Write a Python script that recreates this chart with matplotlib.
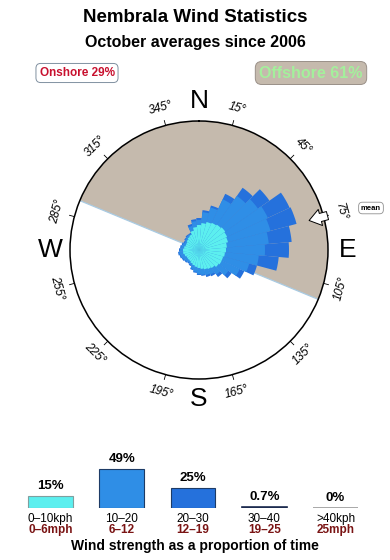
import numpy as np
import matplotlib
matplotlib.use('Agg')
import matplotlib.pyplot as plt

plt.rcParams['font.family'] = ['Liberation Sans', 'DejaVu Sans']

# rose data: direction bins (deg from north) and cumulative petal length per speed band
directions = np.arange(0, 360, 10)
band_0_10 = [25, 27, 29, 30, 31, 32, 31, 30, 28, 27, 26, 25, 25, 24, 22, 21, 20, 19,
             18, 17, 16, 15, 14, 14, 14, 15, 16, 16, 15, 14, 14, 15, 16, 17, 20, 23]
band_10_20 = [30, 38, 44, 56, 66, 72, 76, 74, 70, 66, 60, 52, 45, 36, 30, 27, 26, 25,
              24, 22, 20, 17, 16, 17, 18, 19, 20, 19, 18, 17, 16, 17, 18, 18, 25, 29]
band_20_30 = [32, 40, 46, 62, 76, 86, 100, 101, 93, 90, 80, 60, 50, 40, 33, 29, 28, 26,
              25, 23, 21, 18, 17, 18, 19, 20, 21, 20, 19, 18, 17, 18, 19, 19, 27, 31]
ring_max = 129

offshore_from = 292.5
offshore_to = 112.5
mean_dir = 75
label_dirs = np.arange(15, 360, 30)
cardinals = ['N', 'E', 'S', 'W']

# speed bar data
speed_pct = [15, 49, 25, 0.7, 0]
pct_labels = ['15%', '49%', '25%', '0.7%', '0%']
kph_labels = ['0\u201310kph', '10\u201320', '20\u201330', '30\u201340', '>40kph']
mph_labels = ['0\u20136mph', '6\u201312', '12\u201319', '19\u201325', '25mph']

col_1 = '#5cefef'
col_2 = '#2f8ee6'
col_3 = '#2571dc'
col_off = '#c5baad'

fig = plt.figure(figsize=(3.9, 5.6), dpi=100)

fig.text(0.5, 1 - 17 / 560, 'Nembrala Wind Statistics', ha='center', va='center',
         fontsize=13.5, fontweight='bold')
fig.text(0.5, 1 - 42 / 560, 'October averages since 2006', ha='center', va='center',
         fontsize=11.5, fontweight='bold')
fig.text(77 / 390, 1 - 73 / 560, 'Onshore 29%', ha='center', va='center', fontsize=8.5,
         fontweight='bold', color='#c8102e',
         bbox=dict(boxstyle='round,pad=0.3,rounding_size=0.4', fc='white', ec='#8090a0', lw=0.7))
fig.text(311 / 390, 1 - 73 / 560, 'Offshore 61%', ha='center', va='center', fontsize=11.5,
         fontweight='bold', color='#a4f09c',
         bbox=dict(boxstyle='round,pad=0.25,rounding_size=0.4', fc=col_off, ec='#9a9088', lw=0.7))

# ---- wind rose ----
ax = fig.add_axes([(199 - ring_max) / 390, (560 - 250 - ring_max) / 560,
                   2 * ring_max / 390, 2 * ring_max / 560], projection='polar')
ax.set_theta_zero_location('N')
ax.set_theta_direction(-1)
ax.set_ylim(0, ring_max)
ax.set_xticks([])
ax.set_yticks([])
ax.grid(False)
ax.spines['polar'].set_linewidth(1.1)

span = (offshore_to - offshore_from) % 360
mid = offshore_from + span / 2
ax.bar(np.radians(mid), ring_max, width=np.radians(span), color=col_off, zorder=0)
ax.plot([np.radians(offshore_from), 0, np.radians(offshore_to)], [ring_max, 0, ring_max],
        color='#a9cbe3', lw=0.9, zorder=1)

th = np.radians(directions)
w = np.radians(10)
ax.bar(th, band_20_30, width=w, color=col_3, zorder=2, lw=0)
ax.bar(th, band_10_20, width=w, color=col_2, zorder=3, lw=0)
ax.bar(th, band_0_10, width=w, color=col_1, zorder=4, lw=0)

for b in label_dirs:
    t = np.radians(b)
    ax.plot([t, t], [ring_max, ring_max + 5], color='black', lw=0.6, clip_on=False)
    rot = -b
    if 90 < b < 270:
        rot += 180
    ax.text(t, ring_max + 18, f'{b}\u00b0', rotation=rot, rotation_mode='anchor',
            ha='center', va='center', fontsize=8.5, style='italic')

for i, c in enumerate(cardinals):
    ax.text(np.radians(90 * i), ring_max + 20, c, ha='center', va='center', fontsize=19)

# mean direction arrow
ax.annotate('', xy=(np.radians(mean_dir), ring_max - 15), xytext=(np.radians(mean_dir), ring_max + 4),
            arrowprops=dict(arrowstyle='simple,head_width=1.0,head_length=0.7,tail_width=0.5',
                            mutation_scale=12, shrinkA=0, shrinkB=0,
                            fc='white', ec='black', lw=0.7), zorder=6)
fig.text(371 / 390, 1 - 208 / 560, 'mean', ha='center', va='center', fontsize=5.5,
         fontweight='bold',
         bbox=dict(boxstyle='round,pad=0.3,rounding_size=0.5', fc='white', ec='#909090', lw=0.6))

# ---- speed bars ----
bx = fig.add_axes([0, (560 - 508) / 560, 1, 80 / 560])
x = np.arange(len(speed_pct))
bx.set_xlim(-50.5 / 71.25, (390 - 50.5) / 71.25)
bx.set_ylim(0, 100)
bx.axis('off')
bx.bar(x, speed_pct, width=0.63, color=[col_1, col_2, col_3, '#1c2b4f', '#999999'],
       edgecolor=['#7f9f9f', '#1d3b66', '#1d3b66', '#1c2b4f', '#999999'], lw=[0.8, 0.8, 0.8, 1.2, 1.2])
for i in x:
    bx.annotate(pct_labels[i], (i, speed_pct[i]), xytext=(0, 3), textcoords='offset points',
                ha='center', va='bottom', fontsize=9.5, fontweight='bold')
    bx.text(i, -14, kph_labels[i], ha='center', va='center', fontsize=8.5)
    bx.text(i, -27.5, mph_labels[i], ha='center', va='center', fontsize=8.5,
            fontweight='bold', color='#7a1414')
bx.text(0.5, -47.5, 'Wind strength as a proportion of time', transform=bx.get_yaxis_transform(),
        ha='center', va='center', fontsize=10, fontweight='bold')

fig.savefig('out.png', dpi=100)
